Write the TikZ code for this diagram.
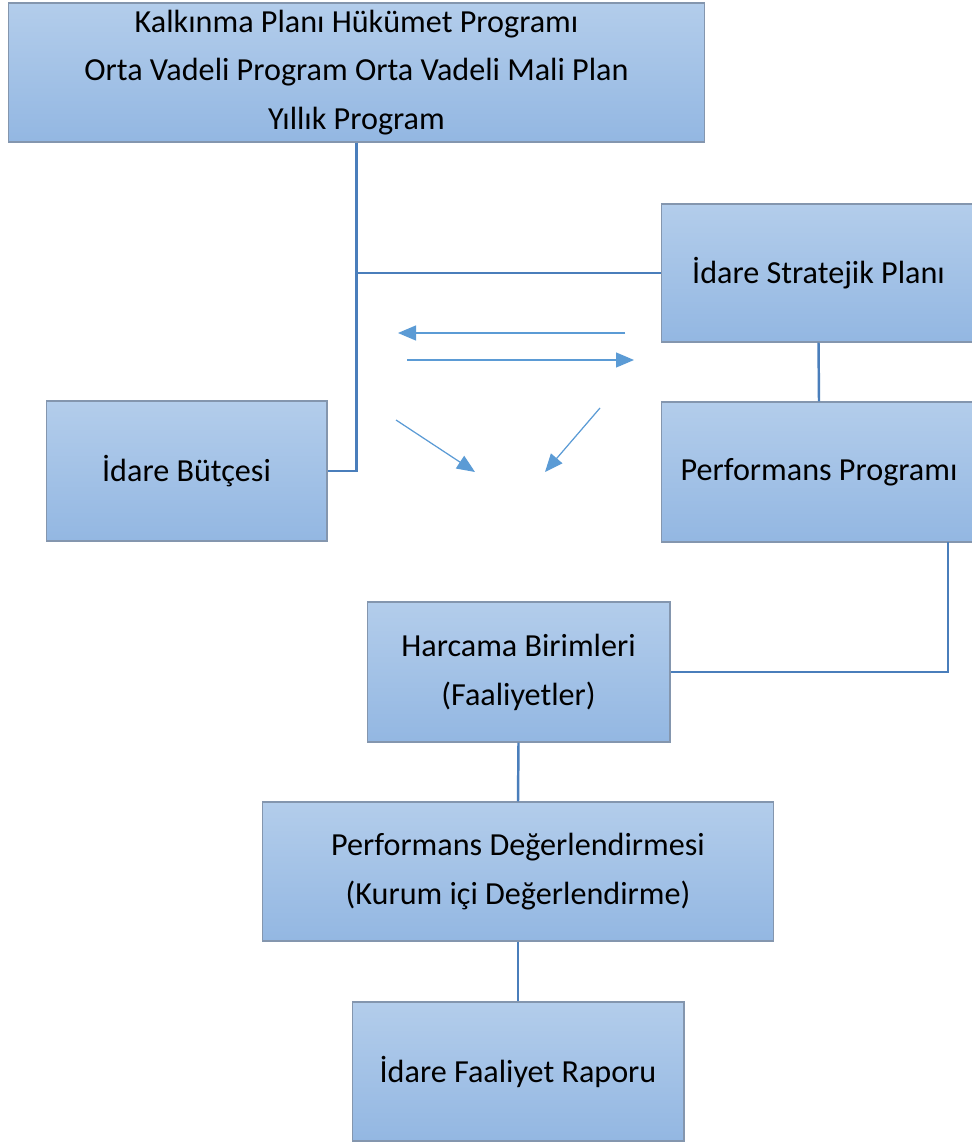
\documentclass[tikz,border=0pt]{standalone}
\usepackage{fontspec}
\setmainfont{Carlito}
\usetikzlibrary{arrows.meta,calc}
\definecolor{boxtop}{HTML}{B3CDEB}
\definecolor{boxbot}{HTML}{93B7E2}
\definecolor{boxline}{HTML}{8496AE}
\definecolor{link}{HTML}{4A7EBB}
\definecolor{arrowblue}{HTML}{5B9BD5}
\tikzset{
  stage/.style={draw=boxline,line width=0.6pt,top color=boxtop,bottom color=boxbot,
    inner sep=0pt,align=center,font=\fontsize{18.3}{27.8}\selectfont,text=black},
  link/.style={draw=link,line width=1.4pt},
  hint/.style={-{Triangle[length=0.36cm,width=0.3cm]},draw=arrowblue,fill=arrowblue,line width=0.7pt}
}

\begin{document}
\begin{tikzpicture}[x=0.02cm,y=-0.02cm]
        \useasboundingbox (0,0) rectangle (972,1142);
        % boxes
        \node[stage,minimum width=13.94cm,minimum height=2.78cm] (plan) at (356.5,72.5)
          {Kalkınma Planı Hükümet Programı\\Orta Vadeli Program Orta Vadeli Mali Plan\\Yıllık Program};
        \node[stage,minimum width=6.3cm,minimum height=2.76cm] (strat) at (818.5,273) {İdare Stratejik Planı};
        \node[stage,minimum width=6.3cm,minimum height=2.8cm] (perf) at (819,472) {Performans Programı};
        \node[stage,minimum width=5.62cm,minimum height=2.8cm] (butce) at (186.5,471) {İdare Bütçesi};
        \node[stage,minimum width=6.06cm,minimum height=2.8cm] (harcama) at (518.5,672) {Harcama Birimleri\\(Faaliyetler)};
        \node[stage,minimum width=10.24cm,minimum height=2.78cm] (deger) at (518,871.5) {Performans Değerlendirmesi\\(Kurum içi Değerlendirme)};
        \node[stage,minimum width=6.64cm,minimum height=2.78cm] (rapor) at (518,1071.5) {İdare Faaliyet Raporu};

        % connectors
        \coordinate (split) at (plan.south |- strat.west);
        \draw[link] (plan.south) |- (butce.east);
        \draw[link] (split) -- (strat.west);
        \draw[link] (strat.south) -- (perf.north);
        \coordinate (perfout) at (948,542);
        \draw[link] (perfout) |- (harcama.east);
        \draw[link] (harcama.south) -- (deger.north);
        \draw[link] (deger.south) -- (rapor.north);

        % cycle arrows
        \coordinate (a1) at (625,333);
        \coordinate (a2) at (398,333);
        \coordinate (b1) at (407,360);
        \coordinate (b2) at (634,360);
        \coordinate (c1) at (396,420);
        \coordinate (c2) at (475,472);
        \coordinate (d1) at (600,408);
        \coordinate (d2) at (545,472);
        \draw[hint] (a1) -- (a2);
        \draw[hint] (b1) -- (b2);
        \draw[hint] (c1) -- (c2);
        \draw[hint] (d1) -- (d2);
      \end{tikzpicture}
\end{document}
